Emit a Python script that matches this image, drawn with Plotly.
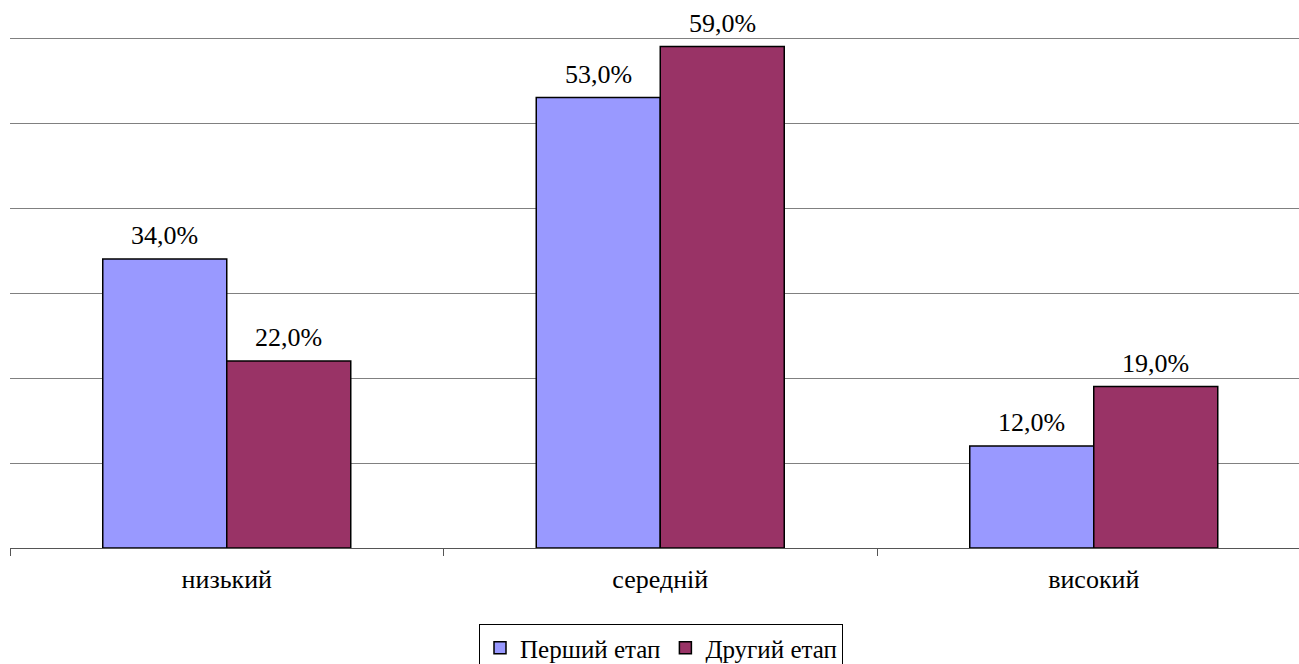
import plotly.graph_objects as go

categories = ["низький", "середній", "високий"]
series_names = ["Перший етап", "Другий етап"]
first_stage = [34.0, 53.0, 12.0]
second_stage = [22.0, 59.0, 19.0]
colors = ["#9999FF", "#993366"]

def fmt(v):
    return f"{v:.1f}%".replace(".", ",")

FS = 26
fig = go.Figure()
for name, vals, col in zip(series_names, [first_stage, second_stage], colors):
    fig.add_trace(go.Bar(
        x=categories, y=vals, name=name,
        marker=dict(color=col, line=dict(color="#000000", width=1.5)),
        cliponaxis=False,
    ))

W, H = 1299, 664
left, right, top, bottom = 10, 0, 36, 116
plot_w = W - left - right
cat_w = 433.5
x_span = plot_w / cat_w
bar_px = 124

# value labels above each bar
for s, vals in enumerate([first_stage, second_stage]):
    shift = (-0.5 if s == 0 else 0.5) * bar_px
    for c, v in zip(categories, vals):
        fig.add_annotation(
            x=c, y=v, text=fmt(v), showarrow=False,
            xanchor="center", yanchor="bottom", xshift=shift, yshift=7,
            font=dict(family="Liberation Serif", size=FS, color="#000000"),
        )

fig.update_layout(
    width=W, height=H,
    margin=dict(l=left, r=right, t=top, b=bottom, pad=0, autoexpand=False),
    paper_bgcolor="white", plot_bgcolor="white",
    barmode="group", bargap=1 - 2 * bar_px / cat_w, bargroupgap=0,
    font=dict(family="Liberation Serif", size=FS, color="#000000"),
    showlegend=True,
    legend=dict(
        orientation="h", xanchor="center", yanchor="top",
        x=(661 - left) / plot_w, y=(548 - 624) / (548 - top),
        bordercolor="#000000", borderwidth=1,
        font=dict(family="Liberation Serif", size=25, color="#000000"),
        itemwidth=30, tracegroupgap=0,
    ),
    xaxis=dict(
        type="category", range=[-0.5, -0.5 + x_span],
        showgrid=False, showline=True, linecolor="#555555", linewidth=1,
        ticks="outside", tickson="boundaries", ticklen=7, tickcolor="#555555",
        tickfont=dict(family="Liberation Serif", size=FS, color="#000000"),
        ticklabelstandoff=8,
    ),
    yaxis=dict(
        range=[0, 60.25], tickvals=[10, 20, 30, 40, 50, 60], showticklabels=False,
        showgrid=True, gridcolor="#808080", gridwidth=1,
        zeroline=False, showline=False, ticks="",
    ),
)

fig.write_html("out.html")
